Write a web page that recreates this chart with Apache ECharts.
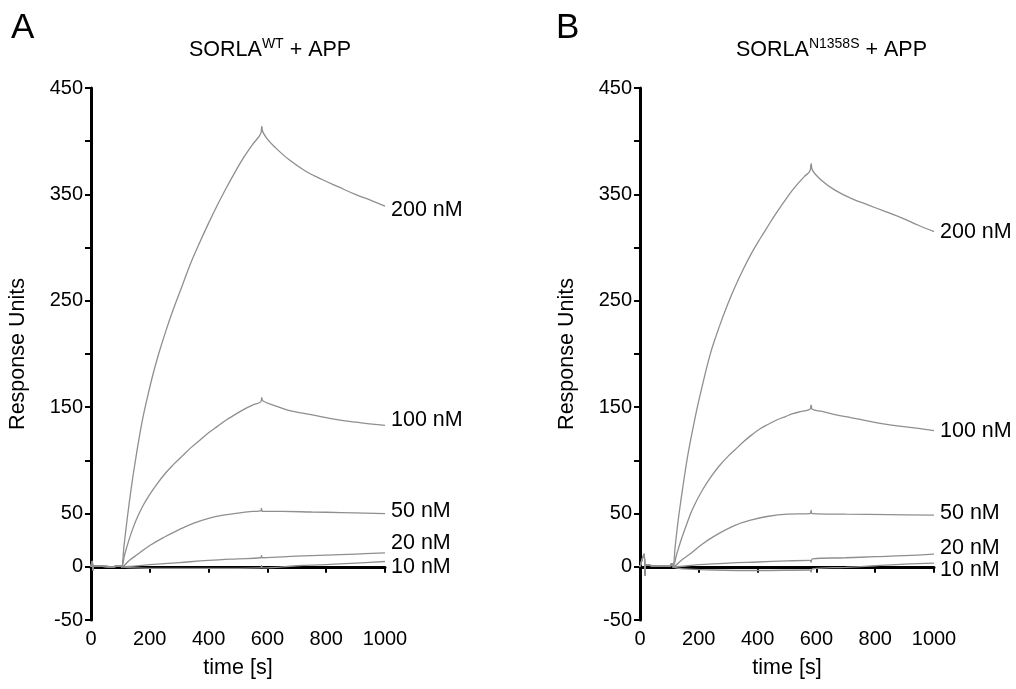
<!DOCTYPE html>
<html><head><meta charset="utf-8">
<script src="https://cdn.jsdelivr.net/npm/echarts@6/dist/echarts.min.js"></script>
<style>html,body{margin:0;padding:0;background:#fff}#c{width:1016px;height:689px}</style>
</head><body><div id="c"></div>
<script>
// ---- data (time [s], Response Units) ----
const seriesNames = ['200 nM', '100 nM', '50 nM', '20 nM', '10 nM'];
const yLabelValues = [450, 350, 250, 150, 50, 0, -50];
const xTickInterval = 200;

// Panel A: SORLA WT + APP
const preA = [[0,0],[4,5],[7,-3],[10,1],[40,0.5],[70,0],[100,1]];
const a200 = [[104,0],[112,19],[120,38],[130,60],[140,80],[150,98],[160,115],[175,138],[190,157],[210,180],[230,200],[255,222],[280,242],[310,264],[340,286],[370,305],[400,323],[430,340],[460,356],[490,371],[520,385],[550,397],[577,407],[581,414],[584,409],[600,402],[627,394],[672,383],[729,372],[786,364],[842,357],[899,350],[956,344],[1000,339]];
const a100 = [[104,0],[115,12],[130,26],[145,38],[160,48],[180,59],[200,68],[220,76],[250,87],[280,96],[310,104],[340,112],[370,119],[400,126],[430,132],[460,138],[490,143],[520,148],[550,152],[577,155],[581,159],[584,156],[620,152],[672,147],[729,144],[786,141],[842,138],[899,136],[956,134],[1000,133]];
const a50 = [[104,0],[130,6],[160,12],[200,20],[250,28],[300,35],[350,41],[400,45.5],[450,48.5],[500,50.5],[550,52],[577,52.5],[580,55],[583,52],[650,52],[750,51.5],[850,51],[1000,50]];
const a20 = [[104,0],[200,2],[300,4],[400,6],[500,7.5],[577,8.5],[580,10.5],[583,8.5],[700,10],[800,11],[900,12],[1000,13]];
const a10 = [[104,0],[150,-1],[250,-1.5],[400,-1.5],[577,-1],[580,1],[583,-1],[700,1],[800,2],[900,3.5],[1000,5]];

// Panel B: SORLA N1358S + APP
const preB = [[0,0],[14,12],[17,-8],[20,2],[40,1],[70,0.5],[100,0.5],[108,3]];
const b200 = [[112,0],[120,20],[130,44],[140,64],[150,83],[164,107],[180,130],[195,150],[210,168],[238,199],[260,218],[278,232],[300,248],[323,263],[350,279],[380,295],[410,309],[437,321],[460,331],[482,340],[500,347],[516,353],[540,361],[560,367],[578,372],[582,379],[586,373],[618,363],[663,354],[720,346],[777,340],[833,334],[890,328],[947,321],[1000,315]];
const b100 = [[112,0],[125,12],[142,27],[160,41],[180,55],[210,71],[240,84],[270,95],[300,104],[323,110],[350,117],[380,124],[410,130],[437,134],[465,138],[493,141],[520,144],[550,146],[578,148],[582,152],[586,148],[620,146],[663,143],[720,140],[777,137],[833,134],[890,132],[947,130],[1000,128]];
const b50 = [[112,0],[140,6],[170,12],[210,21],[260,30],[323,39],[380,44],[437,47.5],[500,49.5],[578,50],[582,53],[586,50],[700,49.5],[850,49],[1000,48.5]];
const b20 = [[112,0],[200,2],[300,3.5],[400,4.5],[500,5.5],[578,6],[582,4.5],[586,7.5],[700,8.5],[800,9.5],[900,10.5],[1000,12]];
const b10 = [[112,0],[150,-2],[250,-3],[400,-3.5],[578,-3],[582,-5],[586,-2],[700,-0.5],[800,1],[900,2.5],[1000,3.5]];

// ---- chart ----
const FONT = '"Liberation Sans", Arial, Helvetica, sans-serif';
const LINE = '#8f8f8f';
const labelOffsetsA = [4, -5, -3, -10, 6];
const labelOffsetsB = [0, 0, -2, -6, 7];
const dataA = [a200, a100, a50, a20, a10].map(d => preA.concat(d));
const dataB = [b200, b100, b50, b20, b10].map(d => preB.concat(d));

function xAxisOpt(idx) {
  return {
    gridIndex: idx, type: 'value', min: 0, max: 1000, interval: xTickInterval,
    name: 'time [s]', nameLocation: 'middle', nameGap: 37,
    nameTextStyle: { fontSize: 21.5, color: '#000', fontFamily: FONT },
    axisLine: { show: true, lineStyle: { color: '#000', width: 3 } },
    axisTick: { show: true, length: 6, lineStyle: { color: '#000', width: 2 } },
    axisLabel: { fontSize: 20, color: '#000', margin: 9, fontFamily: FONT,
      formatter: v => String(v) },
    splitLine: { show: false }
  };
}
function yAxisOpt(idx) {
  return {
    gridIndex: idx, type: 'value', min: -50, max: 450, interval: 50,
    name: 'Response Units', nameLocation: 'middle', nameGap: 62, nameRotate: 90,
    nameTextStyle: { fontSize: 21.5, color: '#000', fontFamily: FONT },
    axisLine: { show: true, lineStyle: { color: '#000', width: 3 } },
    axisTick: { show: true, length: 6, lineStyle: { color: '#000', width: 2 } },
    axisLabel: { fontSize: 20, color: '#000', margin: 8, fontFamily: FONT,
      formatter: v => yLabelValues.indexOf(v) >= 0 ? String(v) : '' },
    splitLine: { show: false }
  };
}
function mkSeries(data, idx, offsets) {
  return data.map((d, i) => ({
    type: 'line', name: seriesNames[i], xAxisIndex: idx, yAxisIndex: idx,
    data: d, symbol: 'none', showSymbol: false, smooth: 0.4,
    lineStyle: { color: LINE, width: 1.3 },
    endLabel: { show: true, formatter: '{a}', distance: 6, offset: [0, offsets[i]],
      fontSize: 21.5, color: '#000', fontFamily: FONT },
    emphasis: { disabled: true }, silent: true
  }));
}
function titleText(x, sup) {
  return {
    type: 'text', x: x, y: 50,
    style: {
      text: '{m|SORLA}{s|' + sup + '}{m| + APP}',
      align: 'left', textAlign: 'left', verticalAlign: 'middle', textVerticalAlign: 'middle',
      rich: {
        m: { fontSize: 21.5, fontFamily: FONT, fill: '#000', lineHeight: 26 },
        s: { fontSize: 14, fontFamily: FONT, fill: '#000', lineHeight: 15, verticalAlign: 'top' }
      }
    }
  };
}

const chart = echarts.init(document.getElementById('c'), null, { renderer: 'canvas' });
chart.setOption({
  animation: false,
  backgroundColor: '#fff',
  textStyle: { fontFamily: FONT },
  grid: [
    { left: 91, top: 88, width: 294, height: 532 },
    { left: 640, top: 88, width: 294, height: 532 }
  ],
  xAxis: [xAxisOpt(0), xAxisOpt(1)],
  yAxis: [yAxisOpt(0), yAxisOpt(1)],
  series: mkSeries(dataA, 0, labelOffsetsA).concat(mkSeries(dataB, 1, labelOffsetsB)),
  graphic: [
    { type: 'text', x: 11, y: 11, style: { text: 'A', fontSize: 35, fontFamily: FONT, fill: '#000' } },
    { type: 'text', x: 556, y: 11, style: { text: 'B', fontSize: 35, fontFamily: FONT, fill: '#000' } },
    titleText(189, 'WT'),
    titleText(736, 'N1358S')
  ]
});
</script></body></html>
